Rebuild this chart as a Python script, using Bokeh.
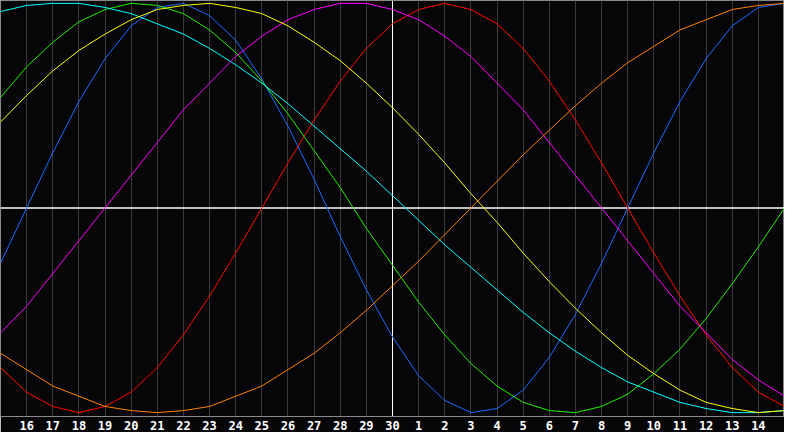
from bokeh.plotting import figure
from bokeh.models import Range1d, FixedTicker, Span
from bokeh.embed import file_html
from bokeh.resources import INLINE

# x position of each sample (day slot across the chart)
day_index = list(range(31))
tick_positions = list(range(1, 30))
tick_labels = ["16", "17", "18", "19", "20", "21", "22", "23", "24", "25", "26", "27", "28", "29", "30",
               "1", "2", "3", "4", "5", "6", "7", "8", "9", "10", "11", "12", "13", "14"]
today_index = 15

physical = [-0.27, 0.00, 0.27, 0.52, 0.73, 0.89, 0.98, 1.00, 0.94, 0.82, 0.63, 0.40, 0.14, -0.14, -0.40, -0.63,
            -0.82, -0.94, -1.00, -0.98, -0.89, -0.73, -0.52, -0.27, 0.00, 0.27, 0.52, 0.73, 0.89, 0.98, 1.00]
emotional = [-0.78, -0.90, -0.97, -1.00, -0.97, -0.90, -0.78, -0.62, -0.43, -0.22, 0.00, 0.22, 0.43, 0.62, 0.78, 0.90,
             0.97, 1.00, 0.97, 0.90, 0.78, 0.62, 0.43, 0.22, 0.00, -0.22, -0.43, -0.62, -0.78, -0.90, -0.97]
intellectual = [0.54, 0.69, 0.81, 0.91, 0.97, 1.00, 0.99, 0.95, 0.87, 0.76, 0.62, 0.46, 0.28, 0.10, -0.10, -0.28,
                -0.46, -0.62, -0.76, -0.87, -0.95, -0.99, -1.00, -0.97, -0.91, -0.81, -0.69, -0.54, -0.37, -0.19, 0.00]
intuitive = [-0.61, -0.48, -0.32, -0.16, 0.00, 0.16, 0.32, 0.48, 0.61, 0.74, 0.84, 0.92, 0.97, 1.00, 1.00, 0.97,
             0.92, 0.84, 0.74, 0.61, 0.48, 0.32, 0.16, 0.00, -0.16, -0.32, -0.48, -0.61, -0.74, -0.84, -0.92]
aesthetic = [0.42, 0.55, 0.67, 0.77, 0.85, 0.92, 0.97, 0.99, 1.00, 0.98, 0.95, 0.89, 0.81, 0.72, 0.61, 0.49,
             0.36, 0.22, 0.07, -0.07, -0.22, -0.36, -0.49, -0.61, -0.72, -0.81, -0.89, -0.95, -0.98, -1.00, -0.99]
awareness = [-0.71, -0.79, -0.87, -0.92, -0.97, -0.99, -1.00, -0.99, -0.97, -0.92, -0.87, -0.79, -0.71, -0.61, -0.50, -0.38,
             -0.26, -0.13, 0.00, 0.13, 0.26, 0.38, 0.50, 0.61, 0.71, 0.79, 0.87, 0.92, 0.97, 0.99, 1.00]
spiritual = [0.96, 0.99, 1.00, 1.00, 0.98, 0.95, 0.90, 0.85, 0.78, 0.70, 0.61, 0.51, 0.40, 0.29, 0.18, 0.06,
             -0.06, -0.18, -0.29, -0.40, -0.51, -0.61, -0.70, -0.78, -0.85, -0.90, -0.95, -0.98, -1.00, -1.00, -0.99]

series = [
    (physical, "#1a6cff"),
    (emotional, "#ff0000"),
    (intellectual, "#22f000"),
    (spiritual, "#00ffff"),
    (intuitive, "#ff00ff"),
    (aesthetic, "#ffff00"),
    (awareness, "#ff8000"),
]

BG = "#060609"

p = figure(width=784, height=432, output_backend="svg", toolbar_location=None,
           x_range=Range1d(0, 30), y_range=Range1d(-1.019, 1.014),
           y_axis_location=None, min_border_left=0, min_border_right=0,
           min_border_top=0, min_border_bottom=0)
p.background_fill_color = BG
p.border_fill_color = BG
p.outline_line_color = "#8a8a8a"
p.outline_line_width = 1

p.ygrid.visible = False
p.xgrid.ticker = FixedTicker(ticks=tick_positions)
p.xgrid.grid_line_color = "#3a3a3a"
p.xgrid.grid_line_width = 1

p.xaxis.ticker = FixedTicker(ticks=tick_positions)
p.xaxis.major_label_overrides = {t: lab for t, lab in zip(tick_positions, tick_labels)}
p.xaxis.axis_line_color = "#8a8a8a"
p.xaxis.major_tick_line_color = None
p.xaxis.minor_tick_line_color = None
p.xaxis.major_tick_out = 0
p.xaxis.major_tick_in = 0
p.xaxis.major_label_standoff = 4
p.xaxis.major_label_text_color = "white"
p.xaxis.major_label_text_font = "DejaVu Sans Mono"
p.xaxis.major_label_text_font_style = "bold"
p.xaxis.major_label_text_font_size = "12px"

p.add_layout(Span(location=today_index, dimension="height", line_color="white", line_width=1, level="underlay"))
p.add_layout(Span(location=0, dimension="width", line_color="white", line_width=1.3, level="underlay"))

for vals, col in series:
    p.line(day_index, vals, line_color=col, line_width=1)

open("out.html", "w").write(file_html(p, INLINE))
